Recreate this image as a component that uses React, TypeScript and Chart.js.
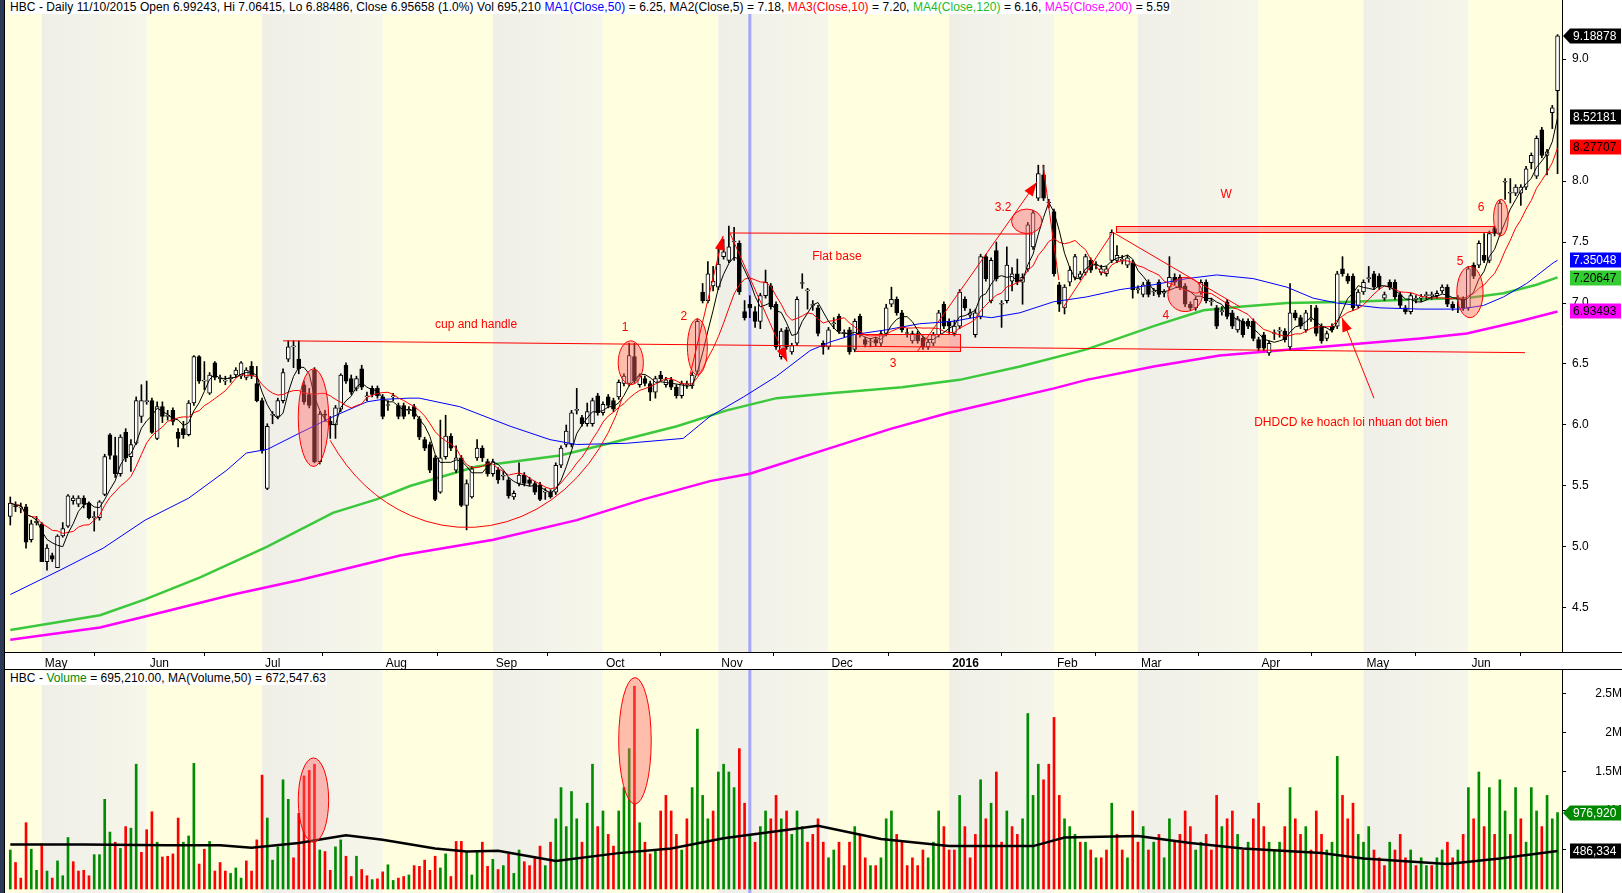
import React, { useEffect, useRef } from 'react';
import { Chart, registerables } from 'chart.js';
Chart.register(...registerables);

// ---------------- DATA ----------------
const OPEN = [
  5.25,5.34,5.32,5.33,5.06,5.20,5.19,4.88,4.93,4.83,
  5.09,5.17,5.38,5.35,5.40,5.36,5.24,5.24,5.43,5.92,
  5.75,5.60,5.94,5.74,5.85,6.07,6.19,6.20,5.89,6.15,
  6.07,6.12,5.94,5.97,5.92,6.18,6.56,6.36,6.26,6.51,
  6.38,6.36,6.38,6.41,6.40,6.39,6.48,6.34,6.20,5.48,
  6.08,6.07,6.20,6.54,6.64,6.54,6.33,6.25,6.45,5.70,
  6.09,6.03,6.00,6.13,6.49,6.38,6.30,6.46,6.23,6.30,
  6.30,6.23,6.16,6.23,6.16,6.16,6.12,6.15,6.05,5.88,
  5.84,5.73,5.45,5.74,5.91,5.63,5.73,5.34,5.41,5.73,
  5.81,5.70,5.60,5.63,5.58,5.55,5.41,5.52,5.59,5.55,
  5.52,5.51,5.45,5.45,5.45,5.67,5.84,5.84,6.12,6.06,
  6.01,6.01,6.24,6.10,6.23,6.20,6.23,6.34,6.34,6.56,
  6.33,6.38,6.34,6.27,6.41,6.33,6.37,6.31,6.24,6.33,
  6.32,6.44,7.09,7.02,7.14,7.13,7.38,7.35,7.50,7.49,
  6.93,6.99,6.93,6.85,7.06,7.14,6.99,6.56,6.78,6.60,
  6.67,7.16,7.10,6.98,6.96,6.67,6.64,6.83,6.89,6.75,
  6.78,6.62,6.89,6.70,6.68,6.70,6.67,6.75,6.99,7.03,
  6.92,6.75,6.69,6.75,6.71,6.64,6.67,6.74,6.99,6.85,
  6.75,6.81,7.03,6.90,6.74,6.89,7.38,7.02,7.43,6.99,
  7.02,7.18,7.24,7.17,7.28,7.46,7.86,8.05,7.82,7.75,
  7.15,6.96,7.17,7.21,7.21,7.25,7.35,7.31,7.25,7.24,
  7.35,7.35,7.35,7.31,7.33,7.11,7.07,7.17,7.09,7.17,
  7.08,7.13,7.21,7.21,7.14,6.99,6.96,7.09,7.17,7.01,
  6.96,6.93,7.01,6.92,6.78,6.85,6.85,6.85,6.70,6.74,
  6.59,6.75,6.77,6.77,6.64,6.92,6.88,6.78,6.87,6.96,
  6.81,6.71,6.81,6.81,7.28,7.22,7.22,6.98,7.09,7.20,
  7.24,7.22,7.04,7.17,7.17,7.07,6.96,6.93,7.03,7.04,
  7.06,7.06,7.06,7.10,7.13,6.99,7.03,7.03,6.96,7.31,
  7.31,7.39,7.35,7.61,7.57,7.99,7.90,7.90,7.90,7.95,
  8.15,8.04,8.42,8.21,8.56,8.74,
];
const HIGH = [
  5.41,5.37,5.36,5.35,5.22,5.25,5.20,5.02,4.95,5.10,
  5.20,5.43,5.42,5.42,5.42,5.37,5.29,5.38,5.76,5.93,
  5.90,5.92,5.97,5.88,6.23,6.33,6.36,6.22,6.19,6.19,
  6.12,6.14,5.97,6.03,6.20,6.57,6.57,6.52,6.43,6.52,
  6.41,6.40,6.41,6.47,6.52,6.47,6.52,6.48,6.22,6.01,
  6.11,6.22,6.46,6.69,6.69,6.69,6.36,6.30,6.47,6.11,
  6.12,6.07,6.16,6.42,6.51,6.41,6.40,6.49,6.27,6.32,
  6.32,6.25,6.20,6.26,6.18,6.18,6.15,6.17,6.07,5.90,
  5.86,5.75,6.04,6.08,5.93,5.83,5.75,5.55,5.66,5.88,
  5.83,5.72,5.72,5.65,5.62,5.57,5.46,5.69,5.61,5.57,
  5.54,5.53,5.48,5.47,5.69,5.83,6.00,6.12,6.30,6.08,
  6.18,6.22,6.26,6.19,6.25,6.22,6.37,6.42,6.67,6.67,
  6.42,6.40,6.36,6.40,6.44,6.39,6.39,6.33,6.36,6.36,
  6.43,6.87,7.16,7.34,7.30,7.45,7.52,7.63,7.62,7.51,
  7.02,7.06,6.97,7.08,7.27,7.16,7.01,6.79,6.80,6.67,
  7.05,7.24,7.12,7.02,6.98,6.69,6.80,6.88,6.91,6.78,
  6.80,6.87,6.91,6.72,6.71,6.72,6.77,6.99,7.13,7.05,
  6.94,6.79,6.77,6.77,6.73,6.70,6.76,6.94,7.01,6.87,
  6.86,7.11,7.05,6.95,6.95,7.40,7.40,7.37,7.50,7.02,
  7.46,7.29,7.36,7.24,7.66,7.76,8.13,8.13,7.85,7.77,
  7.17,7.15,7.30,7.40,7.26,7.40,7.37,7.34,7.31,7.30,
  7.60,7.47,7.39,7.39,7.35,7.14,7.17,7.19,7.12,7.19,
  7.11,7.38,7.24,7.23,7.16,7.01,7.05,7.19,7.19,7.04,
  6.98,6.97,7.03,6.94,6.89,6.87,6.87,6.87,6.72,6.76,
  6.69,6.78,6.80,6.79,7.16,6.94,6.90,6.94,6.98,6.98,
  6.83,6.77,6.83,7.26,7.38,7.24,7.24,7.11,7.19,7.30,
  7.26,7.24,7.09,7.19,7.19,7.09,6.98,7.08,7.06,7.07,
  7.09,7.09,7.10,7.15,7.15,7.01,7.06,7.05,7.30,7.33,
  7.51,7.57,7.59,7.63,7.84,8.02,8.02,7.97,7.97,8.12,
  8.23,8.37,8.44,8.26,8.62,9.20,
];
const LOW = [
  5.18,5.29,5.28,4.99,5.04,5.18,4.88,4.81,4.88,4.83,
  5.08,5.16,5.35,5.33,5.32,5.23,5.13,5.22,5.42,5.72,
  5.57,5.58,5.70,5.62,5.84,6.02,6.17,5.93,5.88,6.02,
  6.04,6.00,5.82,5.89,5.91,6.16,6.34,6.29,6.25,6.37,
  6.35,6.33,6.35,6.39,6.38,6.37,6.38,6.19,5.77,5.47,
  6.01,6.05,6.18,6.52,6.47,6.42,6.17,6.14,5.69,5.68,
  6.03,5.89,5.89,6.11,6.34,6.25,6.28,6.29,6.20,6.23,
  6.22,6.05,6.12,6.20,6.05,6.05,6.09,6.05,5.88,5.79,
  5.61,5.38,5.44,5.72,5.79,5.61,5.33,5.14,5.40,5.71,
  5.70,5.58,5.58,5.52,5.55,5.40,5.39,5.50,5.50,5.50,
  5.43,5.38,5.39,5.40,5.43,5.65,5.82,5.82,6.09,5.99,
  5.99,5.99,6.08,6.08,6.14,6.11,6.21,6.32,6.32,6.34,
  6.31,6.32,6.20,6.22,6.36,6.31,6.29,6.22,6.22,6.30,
  6.30,6.42,7.00,7.00,7.10,7.11,7.36,7.33,7.35,7.07,
  6.86,6.88,6.80,6.79,7.04,6.95,6.62,6.54,6.62,6.58,
  6.65,7.12,6.95,6.94,6.73,6.58,6.62,6.79,6.75,6.72,
  6.58,6.60,6.72,6.64,6.64,6.65,6.65,6.73,6.97,6.90,
  6.76,6.72,6.67,6.67,6.62,6.62,6.65,6.72,6.79,6.75,
  6.73,6.79,6.94,6.88,6.72,6.87,7.18,7.00,7.18,6.80,
  7.00,7.10,7.15,6.99,7.26,7.44,7.84,7.84,7.78,7.22,
  6.93,6.91,7.14,7.19,7.19,7.23,7.25,7.28,7.23,7.22,
  7.33,7.33,7.32,7.29,7.04,7.08,7.05,7.05,7.06,7.05,
  7.05,7.11,7.15,7.11,6.97,6.94,6.94,7.07,7.00,6.98,
  6.79,6.90,6.87,6.79,6.76,6.72,6.79,6.69,6.61,6.61,
  6.57,6.70,6.72,6.68,6.62,6.86,6.79,6.76,6.85,6.73,
  6.67,6.69,6.76,6.79,7.22,7.16,6.94,6.96,7.07,7.17,
  7.11,7.11,7.02,7.11,7.03,6.96,6.91,6.91,7.00,7.01,
  7.03,7.03,7.04,7.08,6.97,6.94,6.92,6.94,6.94,7.20,
  7.29,7.33,7.33,7.55,7.55,7.85,7.82,7.88,7.80,7.93,
  8.10,8.02,8.19,8.05,8.43,8.06,
];
const CLOSE = [
  5.36,5.33,5.33,5.04,5.19,5.21,4.88,4.99,4.90,5.09,
  5.15,5.42,5.40,5.40,5.35,5.24,5.25,5.37,5.74,5.75,
  5.60,5.90,5.73,5.84,6.20,6.20,6.20,5.94,6.15,6.07,
  6.07,6.03,5.89,5.92,6.18,6.56,6.36,6.36,6.41,6.39,
  6.38,6.36,6.38,6.45,6.51,6.45,6.40,6.20,5.79,5.99,
  6.08,6.20,6.43,6.64,6.64,6.46,6.19,6.16,5.70,6.09,
  6.08,6.00,6.14,6.41,6.36,6.27,6.38,6.31,6.23,6.25,
  6.24,6.07,6.16,6.23,6.07,6.07,6.12,6.07,5.90,5.81,
  5.63,5.39,5.73,5.91,5.81,5.73,5.34,5.52,5.64,5.81,
  5.73,5.60,5.70,5.55,5.58,5.42,5.44,5.59,5.52,5.52,
  5.45,5.39,5.45,5.41,5.67,5.81,5.95,6.10,6.12,6.01,
  6.11,6.20,6.10,6.17,6.16,6.13,6.35,6.40,6.57,6.36,
  6.40,6.34,6.27,6.38,6.38,6.37,6.31,6.24,6.34,6.33,
  6.41,6.85,7.02,7.24,7.18,7.32,7.42,7.46,7.50,7.09,
  6.88,6.96,6.85,7.06,7.17,6.97,6.64,6.77,6.64,6.65,
  7.03,7.16,7.10,6.98,6.75,6.64,6.78,6.83,6.77,6.75,
  6.60,6.85,6.74,6.66,6.68,6.67,6.75,6.96,7.03,6.92,
  6.78,6.75,6.75,6.69,6.64,6.68,6.74,6.92,6.81,6.81,
  6.81,7.09,6.96,6.92,6.92,7.38,7.20,7.35,7.20,6.99,
  7.31,7.24,7.17,7.21,7.64,7.74,8.06,7.86,7.82,7.24,
  6.99,7.13,7.27,7.38,7.24,7.38,7.27,7.31,7.28,7.28,
  7.58,7.39,7.35,7.37,7.11,7.11,7.15,7.07,7.09,7.07,
  7.08,7.21,7.17,7.13,6.99,6.96,7.03,7.17,7.02,7.01,
  6.81,6.93,6.89,6.81,6.87,6.74,6.81,6.71,6.63,6.63,
  6.67,6.75,6.77,6.70,6.92,6.88,6.81,6.92,6.87,6.75,
  6.69,6.75,6.78,7.24,7.24,7.18,6.96,7.09,7.17,7.20,
  7.13,7.13,7.07,7.13,7.05,6.98,6.93,7.06,7.03,7.04,
  7.06,7.06,7.08,7.13,6.99,6.96,7.03,6.96,7.28,7.22,
  7.49,7.35,7.57,7.57,7.82,7.99,7.90,7.95,7.95,8.10,
  8.21,8.35,8.21,8.24,8.60,9.19,
];
// volume in millions of shares
const VOLUME_M = [
  0.50,0.34,0.14,0.85,0.51,0.24,0.58,0.23,0.14,0.36,
  0.17,0.66,0.35,0.23,0.24,0.17,0.44,0.44,1.15,0.73,
  0.60,0.52,0.80,0.78,1.60,0.47,0.76,0.99,0.60,0.41,
  0.42,0.45,0.91,0.60,0.68,1.61,0.32,0.51,0.61,0.23,
  0.34,0.23,0.20,0.27,0.14,0.36,0.23,0.63,1.46,0.91,
  0.37,0.54,1.40,1.15,0.40,0.97,1.45,1.52,1.60,0.50,
  0.48,0.24,0.54,0.63,0.42,0.16,0.42,0.25,0.17,0.12,
  0.13,0.22,0.31,0.11,0.14,0.16,0.18,0.30,0.29,0.37,
  0.24,0.42,0.27,0.45,0.16,0.61,0.61,0.48,0.18,0.49,
  0.60,0.29,0.38,0.25,0.30,0.45,0.20,0.50,0.35,0.30,
  0.40,0.55,0.30,0.60,0.90,1.30,0.80,1.25,0.90,0.60,
  1.10,1.60,0.80,1.00,0.70,0.55,1.00,1.30,1.80,2.60,
  0.85,0.60,0.45,0.50,1.00,1.20,1.00,0.70,0.50,0.90,
  1.30,2.05,1.20,0.90,1.00,1.50,1.60,1.50,1.30,1.80,
  1.10,0.70,0.60,0.80,1.00,0.90,1.20,0.90,1.00,0.70,
  1.00,0.80,0.60,0.70,0.90,0.60,0.40,0.50,0.60,0.30,
  0.60,0.80,0.70,0.40,0.30,0.30,0.40,0.90,1.00,0.70,
  0.60,0.30,0.40,0.30,0.50,0.40,0.60,1.00,0.80,0.50,
  0.50,1.20,0.80,0.40,0.70,1.40,0.90,1.10,1.50,0.60,
  1.00,0.80,0.70,0.90,2.25,1.20,1.60,1.40,1.60,2.20,
  1.20,0.90,0.80,0.70,0.60,0.60,0.50,0.40,0.40,0.50,
  1.10,0.70,0.50,0.40,1.00,0.60,0.80,0.50,0.60,0.70,
  0.40,0.90,0.60,0.70,1.00,0.80,0.50,0.60,0.70,0.50,
  1.20,0.80,0.90,1.00,0.70,0.50,0.60,0.90,1.10,0.80,
  0.60,0.50,0.60,0.80,1.30,0.90,0.70,0.80,0.50,1.00,
  0.70,0.50,0.60,1.70,1.20,0.90,1.10,0.70,0.60,0.80,
  0.50,0.40,0.30,0.60,0.50,0.70,0.40,0.50,0.30,0.40,
  0.30,0.30,0.40,0.50,0.60,0.40,0.50,0.70,1.30,0.90,
  1.50,0.80,1.30,0.70,1.40,1.00,0.70,1.30,0.90,0.60,
  1.30,1.00,0.80,1.20,0.90,0.98,
];
// moving averages: [day index, value]
const MA50_PTS = [
  [0,4.61],[9.5,4.81],[17.7,4.99],[25.7,5.22],[34,5.40],[41.3,5.63],[45,5.77],[49,5.80],[55,5.93],
  [61.6,6.07],[68,6.19],[71,6.21],[76,6.22],[78,6.22],[85.7,6.15],[95.3,5.99],[102.9,5.88],[108,5.84],
  [117.5,5.85],[128.3,5.89],[133.4,6.07],[139.8,6.23],[146.1,6.40],[152.5,6.61],[156.3,6.68],
  [160.7,6.74],[167,6.78],[173.4,6.83],[179.8,6.85],[184.9,6.89],[187.1,6.88],[192.5,6.92],
  [198.9,7.01],[205.2,7.05],[211.6,7.11],[218,7.15],[224.3,7.20],[230,7.23],[237,7.20],[243.4,7.13],
  [248.4,7.04],[252.9,7.00],[261.2,6.96],[268.8,6.95],[276.4,6.95],[280.9,6.98],[284.7,7.05],
  [289.1,7.16],[294.2,7.33],[295,7.35],
];
const MA120_PTS = [
  [0,4.32],[17.1,4.44],[25.7,4.57],[36.2,4.75],[48.9,5.00],[61.5,5.28],[69.8,5.39],[76.2,5.50],
  [88.9,5.66],[104.8,5.75],[114.3,5.85],[127.1,5.99],[136.6,6.12],[146.1,6.22],[156.3,6.26],
  [170,6.31],[181,6.37],[192.5,6.48],[205.2,6.62],[218,6.81],[227.5,6.94],[234.4,6.97],
  [243.4,7.00],[256.1,7.01],[268.8,7.03],[277.7,7.04],[284.7,7.08],[291,7.15],[295,7.21],
];
const MA200_PTS = [
  [0,4.24],[17.1,4.34],[25.7,4.43],[42.5,4.61],[55.2,4.73],[74.3,4.93],[92.1,5.06],[108,5.22],
  [120.7,5.39],[133.4,5.54],[141,5.60],[156.3,5.81],[168,5.97],[179,6.10],[199,6.30],[205.2,6.37],
  [218,6.48],[230.6,6.57],[249.7,6.64],[268.8,6.71],[277.7,6.75],[287.8,6.85],[295,6.93],
];
const VOL_MA50_PTS = [
  [0,0.57],[14,0.57],[30,0.56],[40,0.56],[46,0.53],[55,0.59],[64,0.69],[71,0.63],[81,0.52],
  [87,0.48],[93,0.49],[104,0.36],[116,0.46],[126,0.52],[136,0.65],[154,0.81],[166,0.64],
  [179,0.55],[195,0.55],[201,0.66],[215,0.68],[225,0.59],[235,0.52],[250,0.46],[258,0.39],
  [274,0.32],[284,0.39],[295,0.486],
];
const MONTH_START = [6, 26, 48, 71, 92, 113, 135, 156, 179, 199, 215, 238, 258, 278];
const MONTH_LABELS = ['May','Jun','Jul','Aug','Sep','Oct','Nov','Dec','2016','Feb','Mar','Apr','May','Jun'];
const PRICE_TICKS = [4.5, 5.0, 5.5, 6.0, 6.5, 7.0, 7.5, 8.0, 9.0];
const VOL_TICKS = [0.5, 1, 1.5, 2, 2.5];
const PRICE_TAG_VALUES = [9.18878, 8.52181, 8.27707, 7.35048, 7.20647, 6.93493];
const VOL_TAG_VALUES = [976920, 486334];
const CURSOR_DAY = 141;

// annotations drawn on the chart (day index / price units)
const TREND_LINES = [ // [i0, v0, i1, v1, arrowAtEnd]
  [52, 6.69, 288.8, 6.593, 0],
  [137.2, 7.574, 195, 7.565, 0],
  [129.6, 6.41, 135.9, 7.55, 1],
  [137.2, 7.574, 148.1, 6.52, 1],
  [172.9, 6.60, 195.7, 7.99, 1],
  [196.9, 8.13, 199.9, 7.19, 0],
  [200.7, 6.96, 210.2, 7.58, 0],
  [210.2, 7.58, 234.4, 6.97, 0],
  [260.0, 6.22, 253.9, 6.88, 1],
];
const PRICE_ELLIPSES = [ // [ci, cv, ri, rv]
  [57.8, 6.06, 2.9, 0.40],
  [118.3, 6.51, 2.4, 0.18],
  [131.0, 6.64, 1.9, 0.23],
  [193.8, 7.67, 2.9, 0.10],
  [224.0, 7.07, 3.3, 0.14],
  [278.3, 7.09, 2.5, 0.21],
  [284.2, 7.70, 1.4, 0.15],
];
const CUP_ARC = [87.1, 6.78, 31.5, 1.62, 20, 146];
const PRICE_RECTS = [
  [161.0, 6.607, 181.1, 6.746],
  [210.8, 7.58, 282.7, 7.63],
];
const PRICE_NOTES = [
  [88.8, 6.82, 'cup and handle'],
  [117.2, 6.80, '1'],
  [128.4, 6.89, '2'],
  [157.6, 7.38, 'Flat base'],
  [168.3, 6.50, '3'],
  [189.3, 7.78, '3.2'],
  [231.8, 7.89, 'W'],
  [220.3, 6.90, '4'],
  [276.4, 7.34, '5'],
  [280.4, 7.78, '6'],
  [255.6, 6.02, 'DHDCD ke hoach loi nhuan dot bien'],
];
const VOL_ELLIPSES = [
  [57.8, 1.14, 2.9, 0.54],
  [119.1, 1.90, 3.1, 0.81],
];

// ---------------- helpers ----------------
const FONT = "'Liberation Sans', Arial, Helvetica, sans-serif";
const X_MIN = -1.01, X_MAX = 295.85;
const P_MIN = 4.139, P_MAX = 9.484;
const V_MIN = -0.0513, V_MAX = 2.8205;
const RED = '#FF0000';
const PINK = 'rgba(255,100,100,0.42)';

function movingAvg(src: number[], n: number) {
  return src.map((_, i) => {
    const s = src.slice(Math.max(0, i - n + 1), i + 1);
    return { x: i, y: s.reduce((a, b) => a + b, 0) / s.length };
  });
}
const pts = (arr: number[][]) => arr.map(([x, y]) => ({ x, y }));

const bandsPlugin = {
  id: 'bands',
  beforeDraw(chart: any) {
    const { ctx, chartArea: a, scales } = chart;
    const x = scales.x;
    ctx.save();
    ctx.beginPath();
    ctx.rect(a.left, a.top, a.right - a.left, a.bottom - a.top);
    ctx.clip();
    const edges = [X_MIN, ...MONTH_START, X_MAX];
    for (let k = 0; k < edges.length - 1; k++) {
      const x0 = x.getPixelForValue(edges[k]);
      const x1 = x.getPixelForValue(edges[k + 1]);
      if (k % 2 === 1) {
        const g = ctx.createLinearGradient(x0, 0, x1, 0);
        g.addColorStop(0, '#EFEFE8');
        g.addColorStop(1, '#F6F6EA');
        ctx.fillStyle = g;
      } else {
        ctx.fillStyle = '#FFFFE0';
      }
      ctx.fillRect(x0, a.top, x1 - x0, a.bottom - a.top);
    }
    const bx = x.getPixelForValue(CURSOR_DAY);
    ctx.fillStyle = 'rgba(140,140,255,0.75)';
    ctx.fillRect(bx - 1.5, a.top, 3, a.bottom - a.top);
    ctx.restore();
  },
};

function arrowHead(ctx: any, x0: number, y0: number, x1: number, y1: number) {
  const ang = Math.atan2(y1 - y0, x1 - x0);
  const L = 14, W = 5;
  const bx = x1 - L * Math.cos(ang), by = y1 - L * Math.sin(ang);
  ctx.beginPath();
  ctx.moveTo(x1, y1);
  ctx.lineTo(bx + W * Math.sin(ang), by - W * Math.cos(ang));
  ctx.lineTo(bx - W * Math.sin(ang), by + W * Math.cos(ang));
  ctx.closePath();
  ctx.fill();
}

function drawEllipses(ctx: any, x: any, y: any, list: number[][]) {
  for (const [ci, cv, ri, rv] of list) {
    const cx = x.getPixelForValue(ci), cy = y.getPixelForValue(cv);
    const rx = Math.abs(x.getPixelForValue(ci + ri) - cx);
    const ry = Math.abs(cy - y.getPixelForValue(cv + rv));
    ctx.beginPath();
    ctx.ellipse(cx, cy, rx, ry, 0, 0, Math.PI * 2);
    ctx.fillStyle = PINK;
    ctx.fill();
    ctx.strokeStyle = RED;
    ctx.lineWidth = 1;
    ctx.stroke();
  }
}

const priceAnnotPlugin = {
  id: 'priceAnnot',
  afterDatasetsDraw(chart: any) {
    const { ctx, chartArea: a, scales: { x, y } } = chart;
    const px = (v: number) => x.getPixelForValue(v);
    const py = (v: number) => y.getPixelForValue(v);
    ctx.save();
    ctx.beginPath();
    ctx.rect(a.left, a.top, a.right - a.left, a.bottom - a.top);
    ctx.clip();
    for (const [i0, v0, i1, v1] of PRICE_RECTS) {
      const X0 = px(i0), X1 = px(i1), Y0 = py(v1), Y1 = py(v0);
      ctx.fillStyle = PINK;
      ctx.fillRect(X0, Y0, X1 - X0, Y1 - Y0);
      ctx.strokeStyle = RED;
      ctx.lineWidth = 1;
      ctx.strokeRect(Math.round(X0) + 0.5, Math.round(Y0) + 0.5, Math.round(X1 - X0), Math.round(Y1 - Y0));
    }
    drawEllipses(ctx, x, y, PRICE_ELLIPSES);
    {
      const [ci, cv, ri, rv, a0, a1] = CUP_ARC;
      const cx = px(ci), cy = py(cv);
      const rx = Math.abs(px(ci + ri) - cx), ry = Math.abs(cy - py(cv + rv));
      ctx.beginPath();
      ctx.ellipse(cx, cy, rx, ry, 0, (a0 * Math.PI) / 180, (a1 * Math.PI) / 180);
      ctx.strokeStyle = RED;
      ctx.lineWidth = 1;
      ctx.stroke();
    }
    ctx.strokeStyle = RED;
    ctx.fillStyle = RED;
    ctx.lineWidth = 1;
    for (const [i0, v0, i1, v1, arr] of TREND_LINES) {
      const X0 = px(i0), Y0 = py(v0), X1 = px(i1), Y1 = py(v1);
      ctx.beginPath();
      ctx.moveTo(X0, Y0);
      ctx.lineTo(X1, Y1);
      ctx.stroke();
      if (arr) arrowHead(ctx, X0, Y0, X1, Y1);
    }
    ctx.font = `12px ${FONT}`;
    ctx.textAlign = 'center';
    ctx.textBaseline = 'middle';
    ctx.fillStyle = RED;
    for (const [i, v, t] of PRICE_NOTES as any[]) ctx.fillText(t, px(i), py(v));
    ctx.restore();
  },
};

const volAnnotPlugin = {
  id: 'volAnnot',
  afterDatasetsDraw(chart: any) {
    const { ctx, chartArea: a, scales: { x, y } } = chart;
    ctx.save();
    ctx.beginPath();
    ctx.rect(a.left, a.top, a.right - a.left, a.bottom - a.top);
    ctx.clip();
    drawEllipses(ctx, x, y, VOL_ELLIPSES);
    ctx.restore();
  },
};

function tagPlugin(values: number[], styles: any[], fmt: (v: number) => string, scaleVal: (v: number) => number) {
  return {
    id: 'tags',
    afterDraw(chart: any) {
      const { ctx, chartArea: a, scales: { y } } = chart;
      ctx.save();
      ctx.font = `12px ${FONT}`;
      ctx.textBaseline = 'middle';
      ctx.textAlign = 'left';
      values.forEach((v, k) => {
        const st = styles[k];
        const cy = Math.round(y.getPixelForValue(scaleVal(v)));
        const x0 = a.right + 8, x1 = 1621, h = 15;
        ctx.fillStyle = st.bg;
        ctx.beginPath();
        if (st.arrow) {
          ctx.moveTo(a.right + 1, cy);
          ctx.lineTo(x0, cy - h / 2);
        } else {
          ctx.moveTo(x0, cy - h / 2);
        }
        ctx.lineTo(x1, cy - h / 2);
        ctx.lineTo(x1, cy + h / 2);
        ctx.lineTo(x0, cy + h / 2);
        ctx.closePath();
        ctx.fill();
        ctx.fillStyle = st.fg;
        ctx.fillText(fmt(v), x0 + 3, cy + 0.5);
      });
      ctx.restore();
    },
  };
}

function priceConfig(): any {
  const bodyColors = OPEN.map((o, i) => (CLOSE[i] >= o ? '#FFFFFF' : '#000000'));
  return {
    type: 'bar',
    data: {
      datasets: [
        { type: 'line', label: 'MA5', data: movingAvg(CLOSE, 5), borderColor: '#000', borderWidth: 1, pointRadius: 0, order: 0 },
        { type: 'line', label: 'MA10', data: movingAvg(CLOSE, 10), borderColor: RED, borderWidth: 1, pointRadius: 0, order: 1 },
        { type: 'line', label: 'MA50', data: pts(MA50_PTS), borderColor: '#0000FF', borderWidth: 1, pointRadius: 0, order: 2 },
        {
          label: 'body', data: OPEN.map((o, i) => ({ x: i, y: [o, CLOSE[i]] })),
          backgroundColor: bodyColors, borderColor: '#000', borderWidth: 1, borderSkipped: false,
          grouped: false, barPercentage: 1, categoryPercentage: 1, maxBarThickness: 4, minBarLength: 1, order: 3,
        },
        {
          label: 'wick', data: HIGH.map((h, i) => ({ x: i, y: [LOW[i], h] })),
          backgroundColor: '#000', borderWidth: 0, grouped: false, barPercentage: 1, categoryPercentage: 1,
          maxBarThickness: 1, order: 4,
        },
        { type: 'line', label: 'MA120', data: pts(MA120_PTS), borderColor: '#3CC83C', borderWidth: 2.5, pointRadius: 0, order: 5 },
        { type: 'line', label: 'MA200', data: pts(MA200_PTS), borderColor: '#FF00FF', borderWidth: 2.5, pointRadius: 0, order: 6 },
      ],
    },
    options: {
      animation: false, responsive: false, maintainAspectRatio: false, events: [],
      layout: { padding: { left: 5, right: 0, top: 0, bottom: 0 } },
      plugins: { legend: { display: false }, tooltip: { enabled: false } },
      scales: {
        x: {
          type: 'linear', min: X_MIN, max: X_MAX, offset: false,
          grid: { display: true, drawOnChartArea: false, drawTicks: true, tickLength: 4, color: '#000' },
          border: { display: false },
          ticks: {
            autoSkip: false, maxRotation: 0, minRotation: 0, align: 'start', padding: 0, labelOffset: 3, color: '#000',
            font: (c: any) => ({ family: FONT, size: 12, weight: MONTH_LABELS[c.index] === '2016' ? 'bold' : 'normal' }),
            callback: (_v: any, idx: number) => MONTH_LABELS[idx],
          },
          afterBuildTicks: (s: any) => { s.ticks = MONTH_START.map(v => ({ value: v })); },
          afterFit: (s: any) => { s.height = 17; s.paddingLeft = 0; s.paddingRight = 0; },
        },
        y: {
          type: 'linear', position: 'right', min: P_MIN, max: P_MAX,
          grid: { drawOnChartArea: false, drawTicks: true, tickLength: 4, color: '#000' },
          border: { display: true, color: '#000', width: 1 },
          ticks: { padding: 6, color: '#000', font: { family: FONT, size: 12 }, callback: (v: any) => Number(v).toFixed(1) },
          afterBuildTicks: (s: any) => { s.ticks = PRICE_TICKS.map(v => ({ value: v })); },
          afterFit: (s: any) => { s.width = 60; s.paddingTop = 0; s.paddingBottom = 0; },
        },
      },
    },
    plugins: [
      bandsPlugin,
      priceAnnotPlugin,
      tagPlugin(PRICE_TAG_VALUES, [
        { bg: '#000', fg: '#fff', arrow: true },
        { bg: '#000', fg: '#fff' },
        { bg: '#FF0000', fg: '#000' },
        { bg: '#0000FF', fg: '#fff' },
        { bg: '#33CC33', fg: '#000' },
        { bg: '#FF00FF', fg: '#000' },
      ], v => v.toFixed(5), v => v),
    ],
  };
}

function volConfig(): any {
  const colors = CLOSE.map((c, i) => ((i === 0 ? c >= OPEN[0] : c > CLOSE[i - 1]) ? '#008C00' : '#FF0000'));
  return {
    type: 'bar',
    data: {
      datasets: [
        { type: 'line', label: 'MA(Volume,50)', data: pts(VOL_MA50_PTS), borderColor: '#000', borderWidth: 2.5, pointRadius: 0, order: 0 },
        {
          label: 'Volume', data: VOLUME_M.map((v, i) => ({ x: i, y: v })), backgroundColor: colors, borderWidth: 0,
          grouped: false, barPercentage: 1, categoryPercentage: 1, maxBarThickness: 2, order: 1,
        },
      ],
    },
    options: {
      animation: false, responsive: false, maintainAspectRatio: false, events: [],
      layout: { padding: { left: 5, right: 0, top: 0, bottom: 0 } },
      plugins: { legend: { display: false }, tooltip: { enabled: false } },
      scales: {
        x: { type: 'linear', min: X_MIN, max: X_MAX, offset: false, display: false },
        y: {
          type: 'linear', position: 'right', min: V_MIN, max: V_MAX,
          grid: { drawOnChartArea: false, drawTicks: true, tickLength: 4, color: '#000' },
          border: { display: true, color: '#000', width: 1 },
          ticks: { padding: 6, crossAlign: 'far', color: '#000', font: { family: FONT, size: 12 }, callback: (v: any) => `${v}M` },
          afterBuildTicks: (s: any) => { s.ticks = VOL_TICKS.map(v => ({ value: v })); },
          afterFit: (s: any) => { s.width = 60; s.paddingTop = 0; s.paddingBottom = 0; },
        },
      },
    },
    plugins: [
      bandsPlugin,
      volAnnotPlugin,
      tagPlugin(VOL_TAG_VALUES, [
        { bg: '#008800', fg: '#fff', arrow: true },
        { bg: '#000', fg: '#fff' },
      ], v => v.toLocaleString('en-US'), v => v / 1e6),
    ],
  };
}

export default function App() {
  const priceRef = useRef<HTMLCanvasElement>(null);
  const volRef = useRef<HTMLCanvasElement>(null);
  useEffect(() => {
    Chart.defaults.font.family = FONT;
    Chart.defaults.font.size = 12;
    Chart.defaults.color = '#000';
    const pc = new Chart(priceRef.current as HTMLCanvasElement, priceConfig());
    const vc = new Chart(volRef.current as HTMLCanvasElement, volConfig());
    return () => { pc.destroy(); vc.destroy(); };
  }, []);
  const txt: React.CSSProperties = {
    position: 'absolute', left: 9, fontSize: 12, lineHeight: '14px', background: '#fff', whiteSpace: 'nowrap',
    color: '#000', padding: '0 1px', fontFamily: FONT, letterSpacing: '0.06px',
  };
  return (
    <div style={{ position: 'absolute', left: 0, top: 0, width: 1622, height: 893, background: '#fff', overflow: 'hidden', fontFamily: FONT }}>
      <canvas ref={priceRef} width={1622} height={669} style={{ position: 'absolute', left: 0, top: 0, width: 1622, height: 669 }} />
      <canvas ref={volRef} width={1622} height={224} style={{ position: 'absolute', left: 0, top: 669, width: 1622, height: 224 }} />
      <div style={{ position: 'absolute', left: 0, top: 0, width: 4, height: 893, background: '#2B3856' }} />
      <div style={{ position: 'absolute', left: 4, top: 0, width: 1, height: 893, background: '#000' }} />
      <div style={{ position: 'absolute', left: 5, top: 652, width: 1617, height: 1, background: '#000' }} />
      <div style={{ position: 'absolute', left: 5, top: 669, width: 1617, height: 1, background: '#000' }} />
      <div style={{ ...txt, top: 0 }}>
        HBC - Daily 11/10/2015 Open 6.99243, Hi 7.06415, Lo 6.88486, Close 6.95658 (1.0%) Vol 695,210{' '}
        <span style={{ color: '#0000FF' }}>MA1(Close,50)</span> = 6.25, MA2(Close,5) = 7.18,{' '}
        <span style={{ color: '#FF0000' }}>MA3(Close,10)</span> = 7.20,{' '}
        <span style={{ color: '#22BB22' }}>MA4(Close,120)</span> = 6.16,{' '}
        <span style={{ color: '#FF00FF' }}>MA5(Close,200)</span> = 5.59
      </div>
      <div style={{ ...txt, top: 671 }}>
        HBC - <span style={{ color: '#008800' }}>Volume</span> = 695,210.00, MA(Volume,50) = 672,547.63
      </div>
    </div>
  );
}
